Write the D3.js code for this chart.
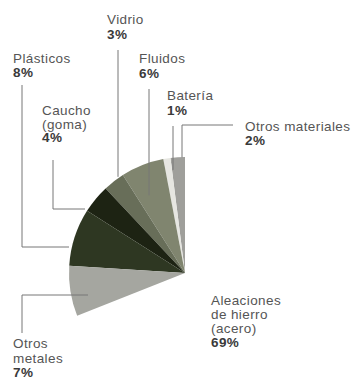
<!DOCTYPE html>
<html><head><meta charset="utf-8">
<script src="https://cdn.jsdelivr.net/npm/d3@7"></script>
<style>body{margin:0;background:#fff}svg{display:block}</style>
</head><body>
<svg id="c" width="357" height="385"></svg>
<script>
const categories = ["Otros materiales","Batería","Fluidos","Vidrio","Caucho (goma)","Plásticos","Otros metales","Aleaciones de hierro (acero)"];
const values = [2,1,6,3,4,8,7,69];
const colors = ["#9f9f9b","#e6e6e1","#80856f","#686e59","#1d2313","#2e3722","#a5a6a0","none"];
const labelLines = [["Otros materiales"],["Batería"],["Fluidos"],["Vidrio"],["Caucho","(goma)"],["Plásticos"],["Otros","metales"],["Aleaciones","de hierro","(acero)"]];
const pctLabels = values.map(v => v + "%");

const svg = d3.select("#c");
const cx = 185, cy = 273, R = 116;
const g = svg.append("g").attr("transform", `translate(${cx},${cy})`);
const pie = d3.pie().sort(null).value(d => d).startAngle(0).endAngle(-2*Math.PI);
const arcs = pie(values);
const arc = d3.arc().innerRadius(0).outerRadius(R);
g.selectAll("path").data(arcs).join("path")
  .attr("d", arc)
  .attr("fill", (d,i) => colors[i])
  .attr("stroke", "none");

function pt(i, frac, rf) {
  const a = arcs[i].startAngle + (arcs[i].endAngle - arcs[i].startAngle) * frac;
  return [cx + Math.sin(a) * R * rf, cy - Math.cos(a) * R * rf];
}
const leaders = [
  {i:0, text:[245,131], lh:14, path: p => [[233,125],[182,125],[182, p[1]]], anchor:[0.6,1.0]},
  {i:1, text:[167,100], lh:15, path: p => [[173,126],[173, p[1]]], anchor:[0.5,0.9]},
  {i:2, text:[139,63], lh:15, path: p => [[149,89],[149, p[1]]], anchor:[0.5,0.72]},
  {i:3, text:[107,24], lh:15, path: p => [[118,50],[118, p[1]]], anchor:[0.15,1.0]},
  {i:4, text:[42,115], lh:13.5, path: p => [[53,160],[53,209],[p[0],209]], anchor:[0.5,0.92]},
  {i:5, text:[13,63], lh:14, path: p => [[22,85],[22,247],[p[0],247]], anchor:[0.75,1.0]},
  {i:6, text:[13,348], lh:14.5, path: p => [[22,333],[22,295],[88,295]], anchor:[0.5,0.9]},
  {i:7, text:[211,305], lh:14, path: null}
];
leaders.forEach(L => {
  if (L.path) {
    let p;
    if (L.i === 4) { p = [85, 209]; }
    else if (L.i === 5) { p = [69, 247]; }
    else p = pt(L.i, L.anchor[0], L.anchor[1]);
    const pts = L.path(p);
    svg.append("path").attr("d", d3.line()(pts))
      .attr("fill","none").attr("stroke","#777").attr("stroke-width",1);
  }
  const t = svg.append("text").attr("x", L.text[0]).attr("y", L.text[1])
    .attr("font-family","Liberation Sans, Arial, sans-serif").attr("font-size",13.5)
    .attr("letter-spacing",0.4).attr("fill","#555");
  labelLines[L.i].forEach((s,k) => t.append("tspan").attr("x",L.text[0]).attr("dy", k===0?0:L.lh).text(s));
  t.append("tspan").attr("x",L.text[0]).attr("dy",L.lh).attr("font-weight","bold").attr("fill","#3a3a3a").text(pctLabels[L.i]);
});
</script>
</body></html>
